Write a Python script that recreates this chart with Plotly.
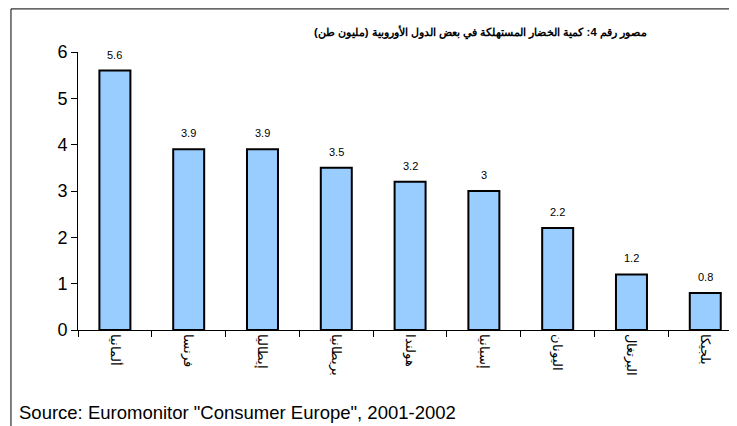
import plotly.graph_objects as go

countries = ["ألمانيا", "فرنسا", "إيطاليا", "بريطانيا", "هولندا", "إسبانيا", "اليونان", "البرتغال", "بلجيكا"]
consumption = [5.6, 3.9, 3.9, 3.5, 3.2, 3, 2.2, 1.2, 0.8]
y_ticks = [0, 1, 2, 3, 4, 5, 6]

title_text = "مصور رقم 4: كمية الخضار المستهلكة في بعض الدول الأوروبية (مليون طن)"
source_text = 'Source: Euromonitor "Consumer Europe", 2001-2002'

fig = go.Figure(
    go.Bar(
        x=countries,
        y=consumption,
        marker=dict(color="#99CCFF", line=dict(color="black", width=2)),
    )
)

# value labels sit a bit higher above the bars than plotly's "outside" text
value_labels = [
    dict(
        x=c, y=v, text=f"{v:g}",
        xref="x", yref="y",
        yshift=16, yanchor="middle",
        showarrow=False,
        font=dict(size=11),
    )
    for c, v in zip(countries, consumption)
]

# page body has an 8px margin, so the figure is 8px smaller than the window
fig.update_layout(
    width=729,
    height=418,
    margin=dict(l=70, r=0, t=44, b=96),
    paper_bgcolor="white",
    plot_bgcolor="white",
    font=dict(family="Liberation Sans, Arial, sans-serif", color="black"),
    bargap=0.58,
    showlegend=False,
    xaxis=dict(
        range=[-0.5, 8.43],
        automargin=False,
        showline=True,
        linecolor="black",
        linewidth=1,
        ticks="outside",
        tickson="boundaries",
        ticklen=6,
        tickcolor="black",
        tickangle=90,
        tickfont=dict(size=13),
        showgrid=False,
    ),
    yaxis=dict(
        range=[0, 6],
        automargin=False,
        tickvals=y_ticks,
        showline=True,
        linecolor="black",
        linewidth=1,
        ticks="outside",
        ticklen=6,
        tickcolor="black",
        tickfont=dict(size=18),
        showgrid=False,
        zeroline=False,
    ),
    annotations=value_labels + [
        dict(
            text="<b>" + title_text + "</b>",
            xref="paper", yref="paper",
            x=0.866, y=1.07,
            xanchor="right", yanchor="middle",
            showarrow=False,
            font=dict(size=11.25),
        ),
        dict(
            text=source_text,
            xref="paper", yref="paper",
            x=-0.092, y=-0.295,
            xanchor="left", yanchor="middle",
            showarrow=False,
            font=dict(size=18.5),
        ),
    ],
    shapes=[
        dict(type="line", xref="paper", yref="paper",
             x0=-0.1017, x1=1.05, y0=1.155, y1=1.155,
             line=dict(color="black", width=1)),
        dict(type="line", xref="paper", yref="paper",
             x0=-0.1017, x1=-0.1017, y0=-0.4, y1=1.155,
             line=dict(color="black", width=1)),
    ],
)

fig.write_html("out.html")
